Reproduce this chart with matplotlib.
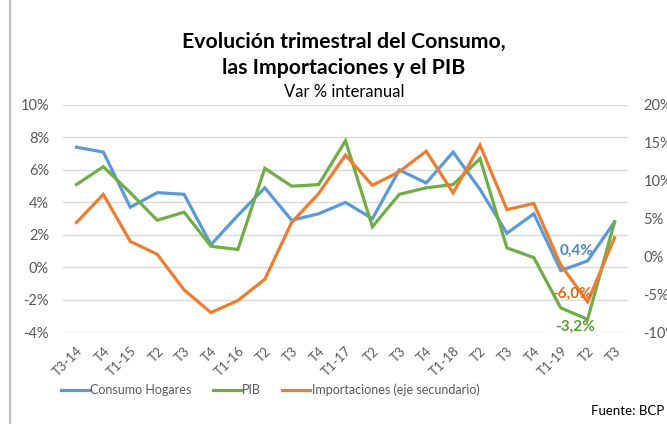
import matplotlib
matplotlib.use("Agg")
import matplotlib.pyplot as plt
from matplotlib.lines import Line2D

plt.rcParams['font.family'] = ['Lato', 'DejaVu Sans']

categories = ["T3-14", "T4", "T1-15", "T2", "T3", "T4", "T1-16", "T2", "T3", "T4",
              "T1-17", "T2", "T3", "T4", "T1-18", "T2", "T3", "T4", "T1-19", "T2", "T3"]
consumo = [7.4, 7.1, 3.7, 4.6, 4.5, 1.4, 3.2, 4.9, 2.9, 3.3,
           4.0, 3.0, 6.0, 5.2, 7.1, 4.8, 2.1, 3.3, -0.2, 0.4, 2.8]
pib = [5.1, 6.2, 4.6, 2.9, 3.4, 1.3, 1.1, 6.1, 5.0, 5.1,
       7.8, 2.5, 4.5, 4.9, 5.1, 6.7, 1.2, 0.6, -2.5, -3.2, 2.8]
importaciones = [4.5, 8.2, 2.0, 0.3, -4.4, -7.4, -5.8, -3.0, 4.5, 8.3,
                 13.4, 9.4, 11.2, 13.9, 8.4, 14.7, 6.2, 7.0, -1.1, -6.0, 2.5]
left_ticks = [-4, -2, 0, 2, 4, 6, 8, 10]
right_ticks = [-10, -5, 0, 5, 10, 15, 20]

BLUE = "#5B9BD5"
GREEN = "#70AD47"
ORANGE = "#ED7D31"
GRAY = "#595959"

fig = plt.figure(figsize=(6.67, 4.24), dpi=100)
ax = fig.add_axes([63/667, 1-332.3/424, (628-63)/667, (332.3-105)/424])
ax2 = ax.twinx()

x = list(range(len(categories)))
ax.plot(x, consumo, color=BLUE, lw=2.3, solid_joinstyle='miter', zorder=3)
ax.plot(x, pib, color=GREEN, lw=2.3, solid_joinstyle='miter', zorder=3)
ax2.plot(x, importaciones, color=ORANGE, lw=2.3, solid_joinstyle='miter', zorder=3)

ax.set_xlim(-0.5, len(categories) - 0.5)
ax.set_ylim(-4, 10)
ax2.set_ylim(-10, 20)
ax.set_yticks(left_ticks)
ax.set_yticklabels([f"{t}%" for t in left_ticks])
ax2.set_yticks(right_ticks)
ax2.set_yticklabels([f"{t}%" for t in right_ticks])
ax.grid(axis='y', color="#D9D9D9", lw=1)
ax.set_axisbelow(True)
ax.set_xticks(x)
ax.set_xticklabels(categories, rotation=45, ha='right', rotation_mode='anchor',
                   fontsize=9.5, color=GRAY)
for a in (ax, ax2):
    for s in a.spines.values():
        s.set_visible(False)
    a.tick_params(length=0)
ax.tick_params(axis='y', labelsize=10.5, labelcolor=GRAY, pad=10)
ax2.tick_params(axis='y', labelsize=10.5, labelcolor=GRAY, pad=11)
ax.tick_params(axis='x', pad=9)

# annotations
i = 19
ax.annotate("0,4%", (i, consumo[i]), xytext=(-8, 7), textcoords='offset points',
            ha='center', va='center', color="#4A86C5", fontsize=11, fontweight='bold')
ax2.annotate("-6,0%", (i, importaciones[i]), xytext=(-11, 6), textcoords='offset points',
             ha='center', va='center', color="#D86A1E", fontsize=11, fontweight='bold')
ax.annotate("-3,2%", (i, pib[i]), xytext=(-9, -5.5), textcoords='offset points',
            ha='center', va='center', color="#5A9A35", fontsize=11, fontweight='bold')

fig.text(344/667, 1-42/424, "Evolución trimestral del Consumo,", ha='center', va='center',
         fontsize=15.3, fontweight='bold', color='black')
fig.text(344/667, 1-68/424, "las Importaciones y el PIB", ha='center', va='center',
         fontsize=15.3, fontweight='bold', color='black')
fig.text(344/667, 1-92/424, "Var % interanual", ha='center', va='center',
         fontsize=12, color='black')

handles = [Line2D([], [], color=BLUE, lw=2.3), Line2D([], [], color=GREEN, lw=2.3),
           Line2D([], [], color=ORANGE, lw=2.3)]
fig.legend(handles, ["Consumo Hogares", "PIB", "Importaciones (eje secundario)"],
           loc='center', bbox_to_anchor=(270/667, 1-390/424), ncol=3, frameon=False,
           fontsize=9, handlelength=2.25, handletextpad=0.1, columnspacing=1.7,
           labelcolor=GRAY)

fig.text(664/667, 1-411/424, "Fuente: BCP", ha='right', va='center', fontsize=9.5, color='black')

fig.add_artist(Line2D([10/667, 10/667], [0, 1], color="#BFBFBF", lw=1.5,
                      transform=fig.transFigure))

fig.savefig("out.png", dpi=100)
